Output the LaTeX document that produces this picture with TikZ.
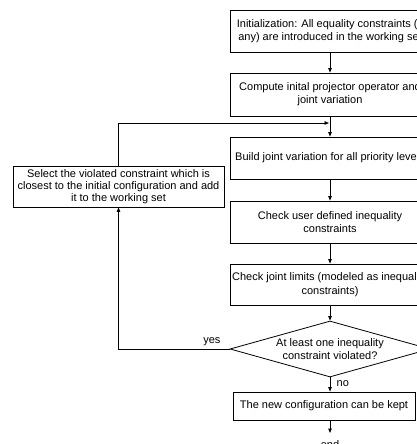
\documentclass[tikz,border=0pt]{standalone}
\usepackage{fontspec}
\setmainfont{Liberation Sans}
\usetikzlibrary{arrows.meta,shapes.geometric}
\begin{document}
\begin{tikzpicture}[x=1pt,y=-1pt,
  every node/.style={font=\fontsize{11}{13.3}\selectfont},
  box/.style={draw,line width=0.8pt,minimum width=200pt,minimum height=42pt,align=center,inner sep=1pt},
  dia/.style={draw,line width=0.8pt,diamond,aspect=3.57,minimum width=200pt,minimum height=56pt,align=center,inner sep=0pt},
  conn/.style={line width=0.8pt,-{Triangle[length=4.5pt,width=3.5pt]}},
  lin/.style={line width=0.8pt}]
\useasboundingbox (0,0) rectangle (417,444);
\clip (0,0) rectangle (417,444);
\fill[white] (0,0) rectangle (417,444);
\node[box] (b1) at (330,31.5) {Initialization: All equality constraints (if\\any) are introduced in the working set};
\node[box,minimum height=43pt] (b2) at (330,94.5) {Compute inital projector operator and\\joint variation};
\node[box] (b3) at (330,158) {Build joint variation for all priority levels};
\node[box] (b4) at (330,222) {Check user defined inequality\\constraints};
\node[box,minimum height=41pt] (b5) at (330,284.5) {Check joint limits (modeled as inequality\\constraints)};
\node[dia] (d) at (330,349) {\rule{0pt}{0pt}};
\node[align=center] (dt) at (330,349) {At least one inequality\\constraint violated?};
\node[box,minimum width=182pt,minimum height=28pt] (b6) at (324,406) {The new configuration can be kept};
\node[inner sep=0pt,anchor=north] (e) at (330,440) {end};
\node[box,minimum width=211pt,minimum height=41pt,font=\fontsize{11}{12.3}\selectfont] (sel) at (118.5,186.5) {Select the violated constraint which is\\closest to the initial configuration and add\\it to the working set};
\coordinate (j) at (329,123);
\draw[conn] (b1.south) -- (b2.north);
\draw[conn] (b2.south) -- (b3.north);
\draw[conn] (b3.south) -- (b4.north);
\draw[conn] (b4.south) -- (b5.north);
\draw[conn] (b5.south) -- (d.north);
\draw[conn] (sel.north) |- (j);
\draw[conn] (d.west) -| node[pos=0.08,above,yshift=-1pt] {yes} (sel.south);
\draw[conn] (d.south) -- node[right,xshift=3pt,pos=0.45] {no} (d.south |- b6.north);
\draw[conn,shorten >=7pt] (d.south |- b6.south) -- (e.north);
\end{tikzpicture}
\end{document}
